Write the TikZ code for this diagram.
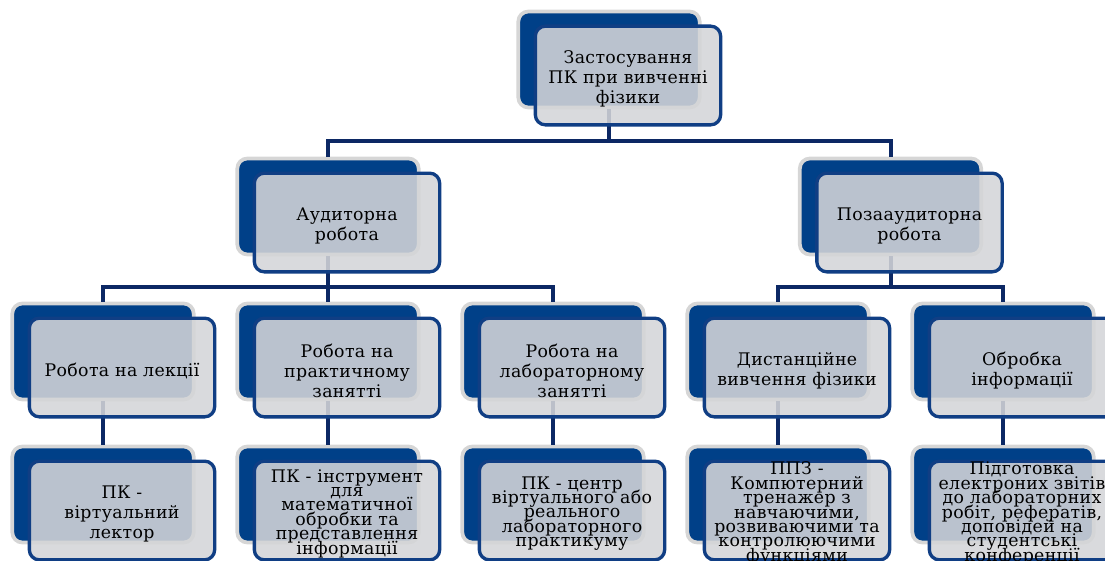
\documentclass[tikz,border=0pt]{standalone}
\usepackage{fontspec}
\setmainfont{DejaVu Serif}
\newfontfamily\tnr[LetterSpace=2]{DejaVu Serif}
\usetikzlibrary{calc}
\definecolor{boxblue}{RGB}{0,64,136}
\definecolor{rimgray}{RGB}{214,214,214}
\definecolor{frontfill}{RGB}{212,213,216}
\definecolor{frontline}{RGB}{16,62,132}
\definecolor{connblue}{RGB}{12,40,100}
\newcommand\normalfs{\tnr\fontsize{13}{15}\selectfont}
\newcommand\tightfs{\tnr\fontsize{13}{10.8}\selectfont}
\tikzset{
  backbox/.style={draw=rimgray, line width=2.8pt, fill=boxblue, rounded corners=7.5pt,
    minimum width=136pt, minimum height=72pt, inner sep=0pt},
  frontbox/.style={draw=frontline, line width=2.5pt, fill=frontfill, fill opacity=0.88,
    rounded corners=7.5pt, minimum width=139pt, minimum height=74pt, inner sep=0pt},
  boxtext/.style={align=center, text=black, inner sep=0pt, font=\normalfs},
  tighttext/.style={align=center, text=black, inner sep=0pt, font=\tightfs},
  conn/.style={draw=connblue, line width=3pt},
}
\lineskiplimit=-100pt
\newcommand\backat[3]{\node[backbox] (#1) at (#2,#3) {};}
\newcommand\frontat[3]{\node[frontbox] (#1f) at ($(#1)+(19,16)$) {};
  \node[#2] (#1t) at ($(#1f.center)+(0,3)$) {#3};}
\begin{document}
\begin{tikzpicture}[x=0.75pt,y=-0.75pt]
\useasboundingbox (0,0) rectangle (1105,560);
\clip (0,0) rectangle (1105,560);
% back boxes
\backat{top}{609}{59.5}
\backat{aud}{328}{206.5}
\backat{poza}{890.5}{206.5}
\backat{lek}{103}{351.5}
\backat{prak}{328}{351.5}
\backat{lab}{553}{351.5}
\backat{dist}{778}{351.5}
\backat{obr}{1003}{351.5}
\backat{lekb}{103}{494.5}
\backat{prakb}{328}{494.5}
\backat{labb}{553}{494.5}
\backat{distb}{778}{494.5}
\backat{obrb}{1003}{494.5}
% connectors
\coordinate (bus1) at (609,141);
\coordinate (bus2) at (440,287);
\coordinate (bus3) at (890.5,287);
\draw[conn] (top.south) -- (bus1);
\draw[conn] (aud.north) |- (bus1) -| (poza.north);
\draw[conn] (aud.south) -- (prak.north);
\draw[conn] (lek.north) |- (bus2) -| (lab.north);
\draw[conn] (poza.south) -- (bus3);
\draw[conn] (dist.north) |- (bus3) -| (obr.north);
\draw[conn] (lek.south) -- (lekb.north);
\draw[conn] (prak.south) -- (prakb.north);
\draw[conn] (lab.south) -- (labb.north);
\draw[conn] (dist.south) -- (distb.north);
\draw[conn] (obr.south) -- (obrb.north);
% front boxes with text
\frontat{top}{boxtext}{Застосування\\ПК при вивченні\\фізики}
\frontat{aud}{boxtext}{Аудиторна\\робота}
\frontat{poza}{boxtext}{Позааудиторна\\робота}
\frontat{lek}{boxtext}{Робота на лекції}
\frontat{prak}{boxtext}{Робота на\\практичному\\занятті}
\frontat{lab}{boxtext}{Робота на\\лабораторному\\занятті}
\frontat{dist}{boxtext}{Дистанційне\\вивчення фізики}
\frontat{obr}{boxtext}{Обробка\\інформації}
\frontat{lekb}{boxtext}{ПК -\\віртуальний\\лектор}
\frontat{prakb}{tighttext}{ПК - інструмент\\для\\математичної\\обробки та\\представлення\\інформації}
\frontat{labb}{tighttext}{ПК - центр\\віртуального або\\реального\\лабораторного\\практикуму}
\frontat{distb}{tighttext}{ППЗ -\\Компютерний\\тренажер з\\навчаючими,\\розвиваючими та\\контролюючими\\функціями}
\frontat{obrb}{tighttext}{Підготовка\\електроних звітів\\до лабораторних\\робіт, рефератів,\\доповідей на\\студентські\\конференції}
\end{tikzpicture}
\end{document}
